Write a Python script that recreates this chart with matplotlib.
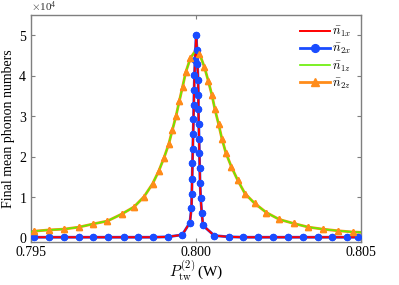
import numpy as np
import matplotlib
matplotlib.use("Agg")
import matplotlib.pyplot as plt
from matplotlib.ticker import ScalarFormatter, FormatStrFormatter

plt.rcParams['font.family'] = ['Liberation Serif', 'DejaVu Serif']
plt.rcParams['mathtext.fontset'] = 'cm'

SCALE = 1e4  # values below are in units of 10^4

# x-polarised modes (red line, blue dots)
p_x = [0.79509, 0.79554, 0.79599, 0.79645, 0.79689, 0.79733, 0.79780,
       0.79824, 0.79870, 0.79915, 0.79958, 0.79981, 0.79986, 0.79987,
       0.79988, 0.79989, 0.79990, 0.79991, 0.79992, 0.79993, 0.79994,
       0.79995, 0.79997, 0.80000, 0.80003, 0.80004, 0.80006, 0.80007,
       0.80007, 0.80008, 0.80009, 0.80010, 0.80011, 0.80012, 0.80014,
       0.80017, 0.80021, 0.80055, 0.80099, 0.80143, 0.80189, 0.80233,
       0.80279, 0.80323, 0.80369, 0.80413, 0.80458, 0.80492]
n1x = [0.01, 0.01, 0.01, 0.01, 0.01, 0.01, 0.01,
       0.01, 0.01, 0.02, 0.07, 0.37, 0.74, 1.09,
       1.46, 1.84, 2.20, 2.56, 2.92, 3.29, 3.66,
       4.03, 4.40, 5.00, 4.63, 4.30, 3.89, 3.52,
       3.17, 2.81, 2.45, 2.08, 1.71, 1.34, 0.97,
       0.62, 0.30, 0.05, 0.02, 0.01, 0.01, 0.01,
       0.01, 0.01, 0.01, 0.01, 0.01, 0.01]
n2x = list(n1x)

# z-polarised modes (green line, orange triangles)
p_z = [0.79500, 0.79509, 0.79554, 0.79599, 0.79645, 0.79689, 0.79731,
       0.79774, 0.79812, 0.79842, 0.79868, 0.79887, 0.79903, 0.79917,
       0.79928, 0.79939, 0.79949, 0.79959, 0.79969, 0.79983, 0.79998,
       0.80010, 0.80025, 0.80037, 0.80048, 0.80057, 0.80068, 0.80078,
       0.80090, 0.80107, 0.80126, 0.80148, 0.80177, 0.80213, 0.80252,
       0.80296, 0.80340, 0.80384, 0.80429, 0.80475, 0.80500]
n1z = [0.14, 0.16, 0.19, 0.21, 0.26, 0.34, 0.41,
       0.58, 0.76, 1.01, 1.33, 1.65, 1.98, 2.31,
       2.66, 3.00, 3.37, 3.73, 4.10, 4.44, 4.62,
       4.55, 4.22, 3.87, 3.52, 3.17, 2.81, 2.45,
       2.10, 1.75, 1.42, 1.09, 0.85, 0.62, 0.45,
       0.35, 0.26, 0.21, 0.17, 0.14, 0.13]
n2z = list(n1z)

x_ticks = [0.795, 0.800, 0.805]
y_ticks = [0, 1, 2, 3, 4, 5]

RED = '#ff0000'
BLUE = '#1a4cff'
GREEN = '#66ee00'
ORANGE = '#ff8c1a'
AXIS_GRAY = '#7f7f7f'

fig = plt.figure(figsize=(3.99, 2.85), dpi=100)
ax = fig.add_axes([0.078, 0.152, 0.827, 0.795])

px = np.array(p_x)
pz = np.array(p_z)
z_marks = list(range(1, 20)) + list(range(21, len(p_z) - 1))

# lines drawn under, markers on top
ax.plot(px, np.array(n2x) * SCALE, color=BLUE, lw=2, marker='o', ms=4.3,
        mec=BLUE, label=r'$\bar{n}_{2x}$', zorder=2)
ax.plot(px, np.array(n1x) * SCALE, color=RED, lw=1.4, label=r'$\bar{n}_{1x}$',
        zorder=3)
ax.plot(px, np.array(n2x) * SCALE, ls='none', marker='o', ms=4.3,
        color=BLUE, zorder=4)

ax.plot(pz, np.array(n2z) * SCALE, color=ORANGE, lw=2, marker='^', ms=4.3,
        markevery=z_marks, label=r'$\bar{n}_{2z}$', zorder=2)
ax.plot(pz, np.array(n1z) * SCALE, color=GREEN, lw=1.2, label=r'$\bar{n}_{1z}$',
        zorder=3)
ax.plot(pz, np.array(n2z) * SCALE, ls='none', marker='^', ms=4.3,
        markevery=z_marks, color=ORANGE, zorder=4)

ax.set_xlim(0.795, 0.805)
ax.set_ylim(-1000, 55000)
ax.set_xticks(x_ticks)
ax.xaxis.set_major_formatter(FormatStrFormatter('%.3f'))
ax.set_yticks([v * SCALE for v in y_ticks])
fmt = ScalarFormatter(useMathText=True)
fmt.set_powerlimits((0, 0))
ax.yaxis.set_major_formatter(fmt)
ax.yaxis.get_offset_text().set_fontsize(8)
ax.yaxis.get_offset_text().set_color('#333333')

ax.tick_params(direction='in', length=3, width=0.8, color=AXIS_GRAY,
               labelsize=10, top=True, right=True, pad=3)
for s in ax.spines.values():
    s.set_color(AXIS_GRAY)
    s.set_linewidth(1)

ax.set_ylabel('Final mean phonon numbers', fontsize=10, labelpad=2)
ax.set_xlabel(r'$P_{\rm tw}^{(2)}\,$(W)', fontsize=11, labelpad=0)

handles, labels = ax.get_legend_handles_labels()
order = [labels.index(l) for l in [r'$\bar{n}_{1x}$', r'$\bar{n}_{2x}$',
                                   r'$\bar{n}_{1z}$', r'$\bar{n}_{2z}$']]
ax.legend([handles[i] for i in order], [labels[i] for i in order],
          loc='upper right', frameon=False, fontsize=9, handlelength=2.4,
          handletextpad=0.2, labelspacing=0.25, borderaxespad=0.4,
          markerscale=1.3)

fig.savefig('out.png', dpi=100)
